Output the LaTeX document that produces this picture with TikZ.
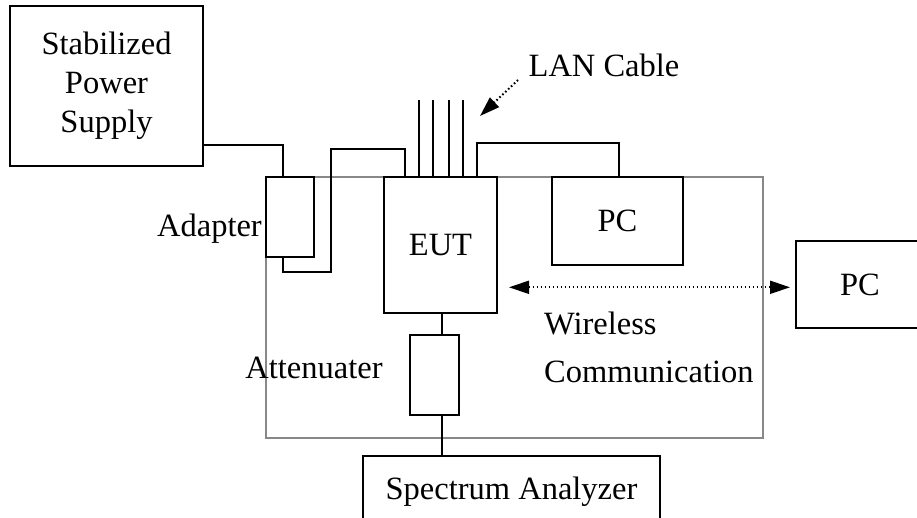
\documentclass[tikz,border=0pt]{standalone}
\usepackage{fontspec}
\setmainfont{Liberation Serif}
\usetikzlibrary{arrows.meta}
\definecolor{framegray}{RGB}{136,136,136}
\begin{document}
\begin{tikzpicture}[x=1pt,y=-1pt,
  font=\fontsize{32.5}{39}\selectfont,
  box/.style={draw, line width=2pt, inner sep=0pt, align=center},
  wire/.style={line width=2pt},
  region/.style={draw=framegray, line width=2pt, inner sep=0pt},
  lbl/.style={inner sep=0pt},
  dotline/.style={line width=2pt, dash pattern=on 1.6pt off 2.4pt},
  tip/.style={-{Triangle[length=20pt,width=13pt]}}
]
\clip (0,0) rectangle (917,518);
% test area
\node[region, minimum width=497pt, minimum height=261pt] (area) at (514.5,307.5) {};
% boxes
\node[box, minimum width=193pt, minimum height=160pt] (sps) at (106.5,86) {Stabilized\\Power\\Supply};
\node[box, minimum width=48pt, minimum height=80pt] (adapter) at (290,217) {};
\node[box, minimum width=113pt, minimum height=136pt] (eut) at (440.5,245) {EUT};
\node[box, minimum width=131pt, minimum height=88pt] (pc1) at (617.5,221) {PC};
\node[box, minimum width=128pt, minimum height=87pt] (pc2) at (860,284.5) {PC};
\node[box, minimum width=49pt, minimum height=80pt] (att) at (434.5,375) {};
\node[box, minimum width=297pt, minimum height=72pt] (spec) at (511.5,492) {Spectrum Analyzer};
% labels
\node[lbl, anchor=east] (adlbl) at (262,229) {Adapter};
\node[lbl] (attlbl) at (314,368) {Attenuater};
\node[lbl] (lanlbl) at (604,65) {LAN Cable};
\node[lbl, anchor=west] (wl1) at (544,323) {Wireless};
\node[lbl, anchor=west] (wl2) at (544,372) {Communication};
% connectors
\draw[wire] (sps.east |- 0,145) -| (283,0 |- adapter.north);
\draw[wire] (283,0 |- adapter.south) |- (331,272) |- (405,149) -- (405,0 |- eut.north);
\foreach \x [count=\i] in {419,433,449,463} {
  \coordinate (lan\i) at (\x,100);
  \draw[wire] (\x,0 |- eut.north) -- (lan\i);
}
\draw[wire] (477,0 |- eut.north) |- (619,143) -- (619,0 |- pc1.north);
\draw[wire] (442,0 |- eut.south) -- (442,0 |- att.north);
\draw[wire] (442,0 |- att.south) -- (442,0 |- spec.north);
% wireless arrow
\draw[dotline, {Triangle[length=20pt,width=13pt]}-{Triangle[length=20pt,width=13pt]}, shorten <=11pt, shorten >=5pt]
  (eut.east |- 0,287.3) -- (pc2.west |- 0,287.3);
% LAN pointer
\coordinate (lanfrom) at (518,80);
\coordinate (lanto) at (480,116);
\draw[dotline, tip] (lanfrom) -- (lanto);
\end{tikzpicture}
\end{document}
